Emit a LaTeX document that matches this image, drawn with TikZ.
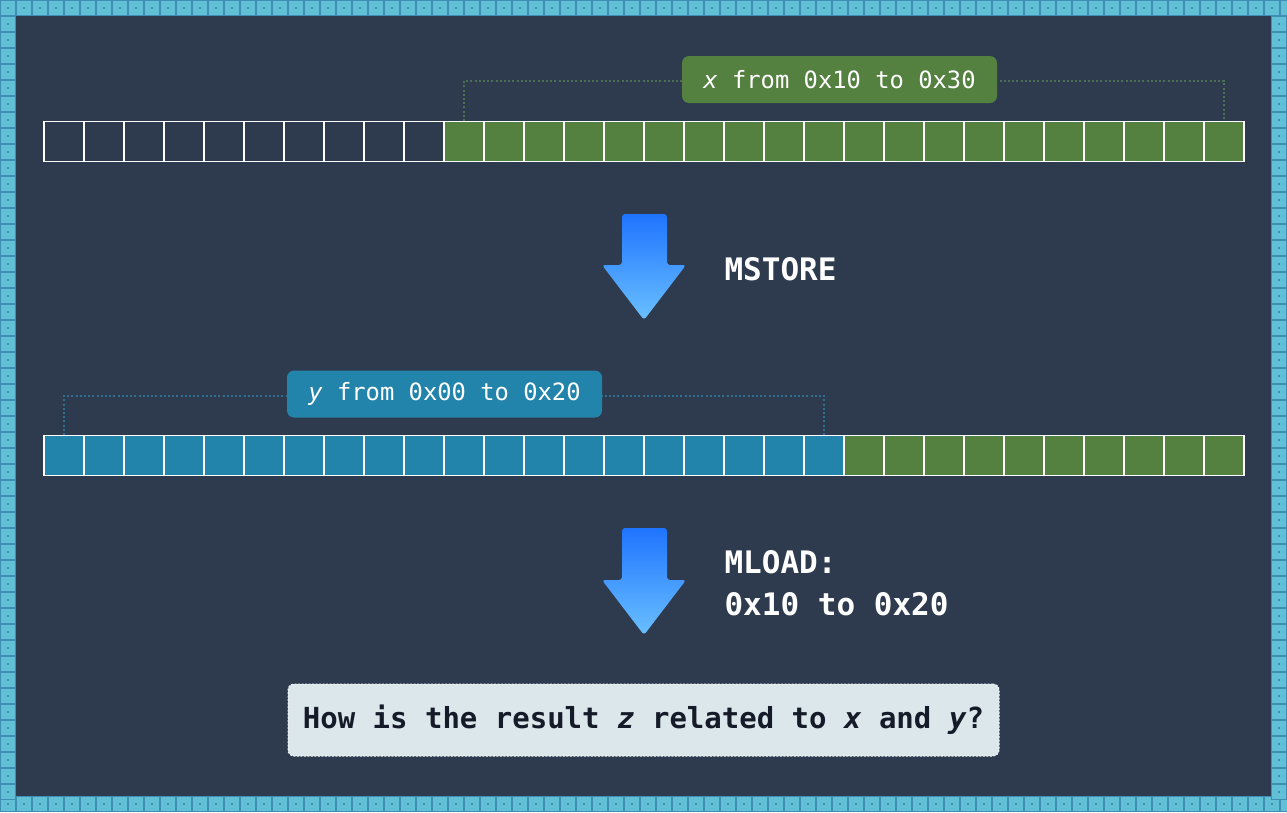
\documentclass[tikz,border=0pt]{standalone}
\usepackage{xcolor}
\usepackage{fontspec}
\setmonofont{DejaVu Sans Mono}
\usepackage{tikz}
\usetikzlibrary{positioning, calc}

\definecolor{bgdark}{HTML}{2E3B4E}
\definecolor{tilefill}{HTML}{62C0D6}
\definecolor{tileedge}{HTML}{3F8FB2}
\definecolor{xgreen}{HTML}{548040}
\definecolor{yblue}{HTML}{2384AB}
\definecolor{xdots}{HTML}{4E6E55}
\definecolor{ydots}{HTML}{2F7090}
\definecolor{arrtop}{HTML}{1F74FF}
\definecolor{arrbot}{HTML}{6AC0FF}
\definecolor{qfill}{HTML}{DCE7EB}
\definecolor{qedge}{HTML}{F2F6F8}
\definecolor{qtext}{HTML}{151B28}

\tikzset{
  cell/.style={draw=white, line width=1.2pt, minimum size=40pt, inner sep=0pt},
  rangelabel/.style={rounded corners=7pt, text=white, font=\ttfamily\fontsize{23.8}{28}\selectfont,
    minimum height=47pt, minimum width=315pt},
  oplabel/.style={text=white, font=\ttfamily\bfseries\fontsize{31}{42}\selectfont, align=left, anchor=west},
  downarrow/.style={top color=arrtop, bottom color=arrbot, rounded corners=3pt},
  dots/.style={line width=2pt, dash pattern=on 2pt off 2.2pt},
  tile/.style={fill=tilefill, draw=tileedge, line width=1pt}
}

\begin{document}
\begin{tikzpicture}[x=1pt, y=-1pt]
\useasboundingbox (0,0) rectangle (1287,812);
% frame
\fill[bgdark] (0,0) rectangle (1287,812);
\foreach \i in {0,...,80} {
  \draw[tile] (16*\i+0.5,0.5) rectangle ++(15,15);
  \fill[tileedge] (16*\i+7,7) rectangle ++(2,2);
  \draw[tile] (16*\i+0.5,796.5) rectangle ++(15,15);
  \fill[tileedge] (16*\i+7,803) rectangle ++(2,2);
}
\foreach \j in {1,...,49} {
  \draw[tile] (0.5,16*\j+0.5) rectangle ++(15,15);
  \fill[tileedge] (7,16*\j+7) rectangle ++(2,2);
  \draw[tile] (1271.5,16*\j+0.5) rectangle ++(15,15);
  \fill[tileedge] (1278,16*\j+7) rectangle ++(2,2);
}

% memory before MSTORE
\foreach \i in {1,...,10}
  \node[cell] (top-\i) at ({24+40*\i},141.5) {};
\foreach \i in {11,...,30}
  \node[cell, fill=xgreen] (top-\i) at ({24+40*\i},141.5) {};
\draw[xdots, dots] (top-11.north) |- (839.5,81) -| (top-30.north);
\node[rangelabel, fill=xgreen] (xlab) at (839.5,79.5) {\textit{x} from 0x10 to 0x30};

% MSTORE
\shade[downarrow] (622,214) -- (667,214) -- (667,265) -- (686,265) -- (644,320)
  -- (602,265) -- (622,265) -- cycle;
\node[oplabel] (mstore) at (721,269) {MSTORE};

% memory after MSTORE
\foreach \i in {1,...,20}
  \node[cell, fill=yblue] (bot-\i) at ({24+40*\i},455.5) {};
\foreach \i in {21,...,30}
  \node[cell, fill=xgreen] (bot-\i) at ({24+40*\i},455.5) {};
\draw[ydots, dots] (bot-1.north) |- (444.5,396) -| (bot-20.north);
\node[rangelabel, fill=yblue] (ylab) at (444.5,394) {\textit{y} from 0x00 to 0x20};

% MLOAD
\shade[downarrow] (622,528) -- (667,528) -- (667,580) -- (686,580) -- (644,635)
  -- (602,580) -- (622,580) -- cycle;
\node[oplabel] (mload) at (721,583) {MLOAD:\\0x10 to 0x20};

% question
\node[fill=qfill, draw=qedge, line width=1pt, dash pattern=on 2pt off 1.5pt, rounded corners=6pt,
  minimum width=711pt, minimum height=72pt, text=qtext,
  font=\ttfamily\bfseries\fontsize{29}{34}\selectfont]
  (question) at (643.5,720) {How is the result \textit{z} related to \textit{x} and \textit{y}?};
\end{tikzpicture}
\end{document}
